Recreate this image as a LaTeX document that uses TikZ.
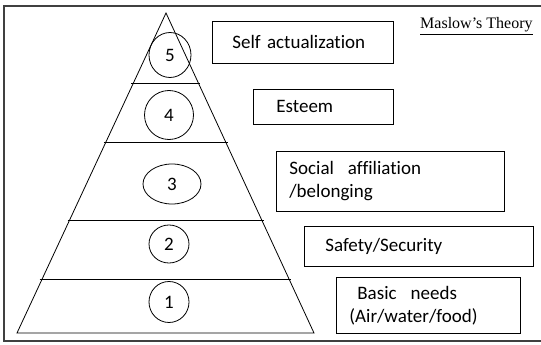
\documentclass[tikz,border=0pt]{standalone}
\usepackage{fontspec}
\setmainfont{Liberation Serif}
\newfontfamily\boxfont[Ligatures=NoCommon]{Carlito}
\usetikzlibrary{calc,shapes.geometric}

\begin{document}
\begin{tikzpicture}
[x=1pt, y=-1pt,
need/.style={rectangle, draw, line width=.8pt, anchor=north west, align=left, inner ysep=0pt, font=\boxfont\fontsize{19}{23}\selectfont},
tier/.style={ellipse, draw, line width=.8pt, inner sep=0pt, font=\boxfont\fontsize{19}{23}\selectfont},
side/.style={line width=.8pt}]

	\useasboundingbox (0,0) rectangle (541,345);

	% frame, open on the right
	\draw[line width=1.2pt, black!75] (541,6) -- (4,6) -- (4,341) -- (541,341);

	% pyramid
	\coordinate (apex) at (166,13);
	\coordinate (bl) at (17,333);
	\coordinate (br) at (314,333);
	\draw[side] (bl) -- (apex) -- (br) -- cycle;
	\foreach \t in {0.219,0.403,0.647,0.834}
		\draw[side] ($(apex)!\t!(bl)+(-2,0)$) -- ($(apex)!\t!(br)+(2,0)$);

	\node (c5) at (170,55) [tier, minimum width=42pt, minimum height=45pt]{5};
	\node (c4) at (169,115) [tier, minimum width=49pt, minimum height=49pt]{4};
	\node (c3) at (172,184) [tier, minimum width=58pt, minimum height=40pt]{3};
	\node (c2) at (169,244) [tier, minimum width=40pt, minimum height=38pt]{2};
	\node (c1) at (169,302) [tier, minimum width=40pt, minimum height=41pt]{1};

	% needs
	\node (self) at (212,21) [need, inner xsep=20pt, text width=141pt, minimum height=42pt]{Self actualization};
	\node (est) at (253,89) [need, inner xsep=23pt, text width=94pt, minimum height=35pt]{Esteem};
	\node (soc) at (276,151) [need, inner xsep=13pt, text width=202pt, minimum height=60pt]{Social\hspace{14pt}affiliation\\/belonging};
	\node (saf) at (304,226) [need, inner xsep=21pt, text width=187pt, minimum height=40pt]{Safety/Security};
	\node (bas) at (336,277) [need, inner xsep=13pt, text width=158pt, minimum height=56pt]{\hspace{8pt}Basic\hspace{14pt}needs\\(Air/water/food)};

	\node (title) at (420,29) [anchor=base west, inner sep=0pt, font=\fontsize{16}{18}\selectfont]{\underline{Maslow's Theory}};

\end{tikzpicture}
\end{document}
